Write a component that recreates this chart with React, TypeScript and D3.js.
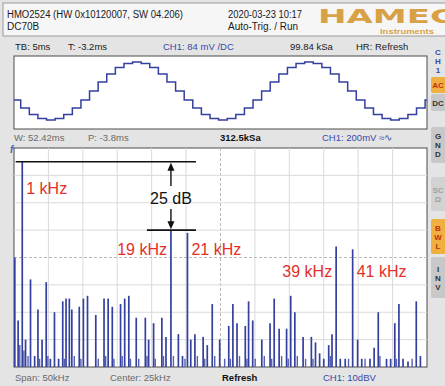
import React from "react";
import * as d3 from "d3";

const W = 445, H = 386;

// upper trace: held sample levels of the 1 kHz tone (normalised)
const stepLevels = [
  -0.31, -0.59, -0.81, -0.95, -1, -0.95, -0.81, -0.59, -0.31, 0,
  0.31, 0.59, 0.81, 0.95, 1, 0.95, 0.81, 0.59, 0.31, 0,
  -0.31, -0.59, -0.81, -0.95, -1, -0.95, -0.81, -0.59, -0.31, 0,
  0.31, 0.59, 0.81, 0.95, 1, 0.95, 0.81, 0.59, 0.31, 0,
  -0.31, -0.59, -0.81, -0.95, -1, -0.95, -0.81, -0.59, -0.31,
];
const stepMs = 0.05;      // 20 kSa/s hold
const firstStepMs = -0.011;
const screenMs = 2.4;

// FFT lines: frequency (kHz) and level (dBV)
const lineFreqs = [
  0.1, 0.5, 1, 1.4, 2, 2.5, 2.9, 3.4, 3.9, 4.4,
  4.9, 5.4, 5.9, 6.3, 6.7, 7, 7.9, 8.4, 8.9, 9.9,
  10.9, 11.4, 11.9, 12.9, 13.4, 13.9, 14.8, 15.9, 16.3, 16.9,
  17.9, 18.4, 19, 19.9, 20.4, 21, 21.4, 21.9, 22.9, 23.4,
  24, 24.9, 26, 26.5, 27, 28, 28.4, 28.9, 30, 31,
  31.5, 32.1, 33, 33.5, 34, 35, 36, 36.5, 37, 37.5,
  38.1, 38.5, 39, 39.5, 40.1, 41, 41.6, 42.1, 43.1, 43.6,
  44.1, 45.1, 45.6, 46.1, 46.6, 47.1, 47.7, 48.7, 49.2,
];
const lineLevels = [
  -40, -63, -5, -70, -48, -76, -59, -70, -49, -77,
  -60, -77, -56, -55, -55, -59, -58, -55, -54, -61,
  -55, -55, -58, -57, -55, -54, -62, -62, -70, -64,
  -62, -69, -30, -68, -76, -31, -70, -68, -69, -72,
  -57, -70, -65, -57, -64, -65, -56, -63, -70, -64,
  -55, -66, -66, -54, -60, -69, -69, -71, -75, -77,
  -72, -68, -36, -77, -77, -37, -70, -77, -77, -73,
  -60, -77, -77, -64, -57, -77, -78, -56, -76,
];

// low "grass" near the noise floor
const floorFreqs = [
  0.7, 1.2, 1.7, 3.1, 4.1, 6.1, 7.3, 8.1, 10.2, 11.1,
  12.1, 13.1, 14.1, 15.1, 16.1, 17.1, 18.1, 19.3, 20.7, 22.2,
  23.1, 24.3, 25.5, 26.2, 27.3, 28.2, 29.2, 30.3, 31.2, 32.4,
  33.2, 34.3, 35.3, 36.2, 38.3, 40.5, 42.5, 44.3, 46.3, 48.2,
];
const floorLevels = [
  -72, -74, -76, -77, -76, -77, -76, -77, -77, -76,
  -77, -76, -77, -77, -76, -77, -76, -76, -77, -76,
  -77, -76, -77, -77, -76, -77, -77, -76, -77, -76,
  -77, -76, -77, -77, -76, -77, -77, -76, -77, -77,
];

// red frequency labels
const labelFreqs = [1, 19, 21, 39, 41];
const labelTexts = ["1 kHz", "19 kHz", "21 kHz", "39 kHz", "41 kHz"];
const labelSide = ["right", "left", "right", "left", "right"];
const labelBaseline = [194, 255, 255, 277, 277];

const refTone = 1, imageTone = 19;

const UP = { x0: 14, x1: 427, y0: 56, y1: 129 };
const SP = { x0: 14, x1: 427, y0: 148, y1: 367 };

const BLUE = "#34409e";
const RED = "#e2302a";
const GOLD = "#d9a146";
const FONT = "'Liberation Sans', Arial, sans-serif";

const Button = ({ y, h, fill, letters, color }) => (
  <g>
    <rect x={431} y={y} width={20} height={h} rx={2} fill={fill} />
    {letters.map((c, i) => (
      <text key={i} x={438} y={y + h / 2 + (i - (letters.length - 1) / 2) * 9 + 3}
        fontSize={8} fontWeight="bold" fill={color} textAnchor="middle">{c}</text>
    ))}
  </g>
);

export default function App() {
  const tx = d3.scaleLinear().domain([0, screenMs]).range([UP.x0, UP.x1]);
  const ty = d3.scaleLinear().domain([-1, 1]).range([120, 62]);
  const fx = d3.scaleLinear().domain([0, 50]).range([SP.x0, SP.x1]);
  const fy = d3.scaleLinear().domain([-80, 0]).range([SP.y1, SP.y0]);

  const pts: [number, number][] = stepLevels.map((v, k) => [firstStepMs + k * stepMs, v]);
  pts.push([firstStepMs + stepLevels.length * stepMs, stepLevels[stepLevels.length - 1]]);
  const wave = d3.line<[number, number]>()
    .x(d => tx(d[0])).y(d => ty(d[1]))
    .curve(d3.curveStepAfter)(pts);

  const xGrid = d3.range(13).map(i => (i * 50) / 12);
  const yGrid = d3.range(9).map(i => -80 + i * 10);

  const refDb = lineLevels[lineFreqs.indexOf(refTone)];
  const imgDb = lineLevels[lineFreqs.indexOf(imageTone)];
  const ax = fx(imageTone);

  return (
    <svg width={W} height={H} style={{ position: "absolute", left: 0, top: 0 }}
      fontFamily={FONT}>
      <defs>
        <clipPath id="upclip">
          <rect x={UP.x0} y={UP.y0} width={UP.x1 - UP.x0} height={UP.y1 - UP.y0} />
        </clipPath>
      </defs>
      <rect width={W} height={H} fill="#e4e4e4" />

      {/* header */}
      <rect x={3} y={3} width={W} height={33} fill="#f6f6f6" stroke="#9a9a9a" />
      <text x={7} y={18} fontSize={10} fill="#1a1a1a" textLength={176} lengthAdjust="spacingAndGlyphs">HMO2524 (HW 0x10120007, SW 04.206)</text>
      <text x={7} y={30} fontSize={10} fill="#1a1a1a">DC70B</text>
      <text x={228} y={18} fontSize={10} fill="#1a1a1a" textLength={74} lengthAdjust="spacingAndGlyphs">2020-03-23 10:17</text>
      <text x={228} y={30} fontSize={10} fill="#1a1a1a" textLength={70} lengthAdjust="spacingAndGlyphs">Auto-Trig. / Run</text>
      <text x={318} y={22.5} fontSize={20} fontWeight="bold" fill={GOLD} fontFamily="'DejaVu Sans', sans-serif"
        textLength={140} lengthAdjust="spacingAndGlyphs">HAMEG</text>
      <text x={380} y={34} fontSize={6.5} fontWeight="bold" fill={GOLD} textLength={54} lengthAdjust="spacingAndGlyphs">Instruments</text>

      {/* info bar 1 */}
      <g fontSize={9.5} fill="#1a1a1a">
        <text x={15} y={50}>TB: 5ms</text>
        <text x={68} y={50}>T: -3.2ms</text>
        <text x={163} y={50} fill="#3848a8">CH1: 84 mV /DC</text>
        <text x={290} y={50}>99.84 kSa</text>
        <text x={356} y={50}>HR: Refresh</text>
      </g>

      {/* upper trace */}
      <rect x={UP.x0} y={UP.y0} width={UP.x1 - UP.x0} height={UP.y1 - UP.y0} fill="#fff" stroke="#4a4a4a" />
      <path d={wave} fill="none" stroke={BLUE} strokeWidth={1.5} clipPath="url(#upclip)" />

      {/* info bar 2 */}
      <g fontSize={9.5} fill="#6a6a6a">
        <text x={14} y={141}>W: 52.42ms</text>
        <text x={88} y={141}>P: -3.8ms</text>
        <text x={220} y={141} fill="#111" fontWeight="bold">312.5kSa</text>
        <text x={322} y={141} fill="#3848a8">CH1: 200mV ≈∿</text>
      </g>

      {/* spectrum */}
      <rect x={SP.x0} y={SP.y0} width={SP.x1 - SP.x0} height={SP.y1 - SP.y0} fill="#fff" stroke="#4a4a4a" />
      {xGrid.slice(1, -1).map((f, i) => (
        <line key={"gx" + i} x1={fx(f)} x2={fx(f)} y1={SP.y0} y2={SP.y1}
          stroke={i === 5 ? "#b8b8b8" : "#dadada"} strokeDasharray={i === 5 ? "3,2" : null} />
      ))}
      {yGrid.slice(1, -1).map((d, i) => (
        <line key={"gy" + i} x1={SP.x0} x2={SP.x1} y1={fy(d)} y2={fy(d)}
          stroke={i === 3 ? "#b8b8b8" : "#dadada"} strokeDasharray={i === 3 ? "3,2" : null} />
      ))}
      {floorFreqs.map((f, i) => (
        <line key={"n" + i} x1={fx(f)} x2={fx(f)} y1={fy(-80)} y2={fy(floorLevels[i])}
          stroke="#5560b0" strokeWidth={1.4} />
      ))}
      {lineFreqs.map((f, i) => (
        <line key={"l" + i} x1={fx(f)} x2={fx(f)} y1={fy(-80)} y2={fy(lineLevels[i])}
          stroke={BLUE} strokeWidth={1.7} />
      ))}
      <text x={10} y={153} fontSize={10} fontStyle="italic" fontWeight="bold" fill="#5060b0">f</text>

      {/* 25 dB annotation */}
      <line x1={fx(0.2)} x2={ax + 25} y1={fy(refDb)} y2={fy(refDb)} stroke="#111" strokeWidth={1.6} />
      <line x1={ax - 24} x2={ax + 25} y1={fy(imgDb)} y2={fy(imgDb)} stroke="#111" strokeWidth={1.6} />
      <line x1={ax} x2={ax} y1={fy(refDb) + 6} y2={186} stroke="#111" strokeWidth={1.4} />
      <path d={`M${ax},${fy(refDb) + 1}l-3.5,8h7z`} fill="#111" />
      <line x1={ax} x2={ax} y1={209} y2={fy(imgDb) - 6} stroke="#111" strokeWidth={1.4} />
      <path d={`M${ax},${fy(imgDb) - 1}l-3.5,-8h7z`} fill="#111" />
      <text x={ax} y={204} fontSize={16} fill="#111" textAnchor="middle">25 dB</text>

      {labelFreqs.map((f, i) => (
        <text key={"t" + i} x={fx(f) + (labelSide[i] === "right" ? 4 : -4)} y={labelBaseline[i]}
          fontSize={16} fill={RED} textAnchor={labelSide[i] === "right" ? "start" : "end"}>{labelTexts[i]}</text>
      ))}

      {/* bottom bar */}
      <g fontSize={9.5} fill="#6a6a6a">
        <text x={15} y={381}>Span: 50kHz</text>
        <text x={110} y={381}>Center: 25kHz</text>
        <text x={222} y={381} fill="#111" fontWeight="bold">Refresh</text>
        <text x={323} y={381} fill="#3848a8">CH1: 10dBV</text>
      </g>

      {/* side buttons */}
      <Button y={47} h={28} fill="none" letters={["C", "H", "1"]} color="#3848a8" />
      <Button y={77} h={16} fill="#f0b040" letters={["AC"]} color="#c03010" />
      <Button y={94} h={17} fill="#c8c8c8" letters={["DC"]} color="#333" />
      <Button y={127} h={36} fill="#c8c8c8" letters={["G", "N", "D"]} color="#333" />
      <Button y={177} h={34} fill="#d2d2d2" letters={["SC", "Ω"]} color="#a0a0a0" />
      <Button y={219} h={35} fill="#f0b040" letters={["B", "W", "L"]} color="#c03010" />
      <Button y={257} h={41} fill="#c8c8c8" letters={["I", "N", "V"]} color="#333" />
    </svg>
  );
}
